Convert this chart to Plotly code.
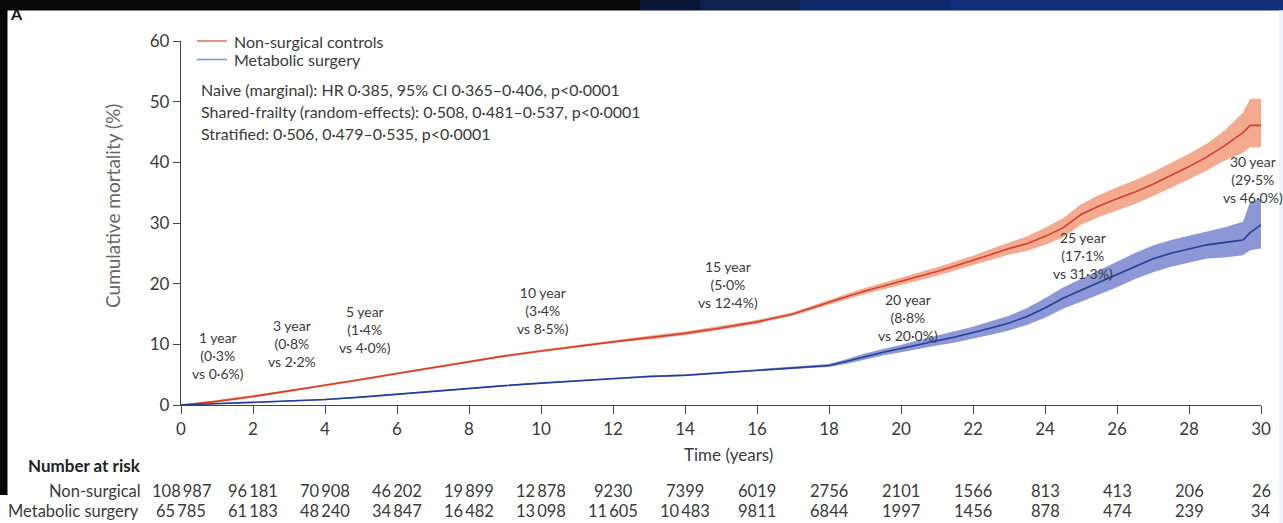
import plotly.graph_objects as go

# ---------------- data ----------------
time = [0, 1, 2, 3, 4, 5, 6, 7, 8, 9, 10, 11, 12, 13, 14, 15, 16, 17, 18, 18.5, 19, 19.5,
        20, 20.5, 21, 21.5, 22, 22.5, 23, 23.5, 24, 24.5, 25, 25.5, 26, 26.5, 27, 27.5,
        28, 28.5, 29, 29.5, 29.7, 30]

nonsurg = [0, 0.6, 1.4, 2.3, 3.2, 4.2, 5.2, 6.2, 7.1, 8.1, 8.9, 9.7, 10.4, 11.1, 11.8, 12.7,
           13.7, 15.0, 17.0, 17.9, 18.8, 19.6, 20.3, 21.2, 22.0, 22.9, 23.8, 24.8, 25.8, 26.6,
           27.8, 29.2, 31.4, 32.8, 34.0, 35.1, 36.4, 37.8, 39.3, 40.9, 42.8, 44.9, 46.1, 46.1]
nonsurg_lo = [0, 0.4, 1.2, 2.1, 3.0, 4.0, 5.0, 6.0, 6.9, 7.9, 8.7, 9.5, 10.2, 10.8, 11.5, 12.4,
              13.4, 14.7, 16.6, 17.45, 18.3, 19.05, 19.7, 20.55, 21.3, 22.15, 23.0, 23.9, 24.8, 25.4,
              26.4, 27.6, 29.7, 31.0, 32.1, 33.15, 34.4, 35.75, 37.2, 38.7, 40.3, 41.6, 42.5, 42.5]
nonsurg_hi = [0, 0.8, 1.6, 2.5, 3.4, 4.4, 5.4, 6.4, 7.3, 8.3, 9.1, 9.9, 10.6, 11.4, 12.1, 13.0,
              14.0, 15.3, 17.4, 18.35, 19.3, 20.15, 20.9, 21.85, 22.7, 23.65, 24.6, 25.7, 26.8, 27.8,
              29.2, 30.8, 33.1, 34.6, 35.9, 37.05, 38.4, 39.85, 41.4, 43.1, 45.3, 48.2, 50.5, 50.5]

surgery = [0, 0.2, 0.4, 0.65, 0.9, 1.3, 1.8, 2.2, 2.7, 3.2, 3.6, 4.0, 4.4, 4.7, 4.9, 5.3,
           5.8, 6.1, 6.5, 7.2, 8.0, 8.7, 9.3, 10.0, 10.6, 11.2, 11.9, 12.7, 13.5, 14.6,
           16.0, 17.6, 18.9, 20.2, 21.5, 22.9, 24.1, 25.0, 25.7, 26.4, 26.8, 27.2, 28.4, 29.7]
surgery_lo = [0, 0.1, 0.3, 0.55, 0.8, 1.2, 1.7, 2.1, 2.6, 3.1, 3.5, 3.9, 4.3, 4.55, 4.75, 5.15,
              5.65, 5.95, 6.25, 6.8, 7.5, 8.15, 8.7, 9.3, 9.8, 10.3, 10.9, 11.6, 12.3, 13.2,
              14.4, 15.85, 17.0, 18.2, 19.4, 20.75, 21.9, 22.8, 23.5, 24.15, 24.3, 24.7, 25.5, 25.8]
surgery_hi = [0, 0.3, 0.5, 0.75, 1.0, 1.4, 1.9, 2.3, 2.8, 3.3, 3.7, 4.1, 4.5, 4.85, 5.05, 5.45,
              5.95, 6.25, 6.75, 7.6, 8.5, 9.25, 9.9, 10.7, 11.4, 12.1, 12.9, 13.8, 14.7, 16.0,
              17.6, 19.35, 20.8, 22.2, 23.6, 25.05, 26.3, 27.2, 27.9, 28.65, 29.3, 30.2, 33.5, 34.0]

risk_times = [0, 2, 4, 6, 8, 10, 12, 14, 16, 18, 20, 22, 24, 26, 28, 30]
risk_nonsurg = [108987, 96181, 70908, 46202, 19899, 12878, 9230, 7399, 6019, 2756, 2101,
                1566, 813, 413, 206, 26]
risk_surgery = [65785, 61183, 48240, 34847, 16482, 13098, 11605, 10483, 9811, 6844, 1997,
                1456, 878, 474, 239, 34]

series_names = ["Non-surgical controls", "Metabolic surgery"]
risk_row_labels = ["Non-surgical", "Metabolic surgery"]

milestone_labels = [
    "1 year<br>(0·3%<br>vs 0·6%)",
    "3 year<br>(0·8%<br>vs 2·2%",
    "5 year<br>(1·4%<br>vs 4·0%)",
    "10 year<br>(3·4%<br>vs 8·5%)",
    "15 year<br>(5·0%<br>vs 12·4%)",
    "20 year<br>(8·8%<br>vs 20·0%)",
    "25 year<br>(17·1%<br>vs 31·3%)",
    "30 year<br>(29·5%<br>vs 46·0%)",
]

stats_lines = [
    "Naive (marginal): HR 0·385, 95% CI 0·365–0·406, p<0·0001",
    "Shared-frailty (random-effects): 0·508, 0·481–0·537, p<0·0001",
    "Stratified: 0·506, 0·479–0·535, p<0·0001",
]

# ---------------- styling / layout ----------------
FONT = "Lato, 'Open Sans', 'DejaVu Sans', sans-serif"
TXT = "#3a3a3a"
RED_LINE = "#d2402e"
RED_BAND = "#f4aa8e"
BLUE_LINE = "#233f94"
BLUE_BAND = "#8b97d6"
LEG_RED = "#e07a72"
LEG_BLUE = "#7a9cc0"

W, H = 1283, 523
ML, MR, MT, MB = 181, 22, 41, 118
PW, PH = W - ML - MR, H - MT - MB


def px(xp):
    return (xp - ML) / PW


def py(yp):
    return (H - MB - yp) / PH


def fmt(n):
    s = str(n)
    if n >= 10000:
        s = s[:-3] + "\u2009" + s[-3:]
    return s


fig = go.Figure()

# confidence bands
fig.add_trace(go.Scatter(x=time, y=nonsurg_lo, mode="lines", line=dict(width=0, color=RED_BAND),
                         showlegend=False, hoverinfo="skip"))
fig.add_trace(go.Scatter(x=time, y=nonsurg_hi, mode="lines", line=dict(width=0, color=RED_BAND),
                         fill="tonexty", fillcolor=RED_BAND, showlegend=False, hoverinfo="skip"))
fig.add_trace(go.Scatter(x=time, y=surgery_lo, mode="lines", line=dict(width=0, color=BLUE_BAND),
                         showlegend=False, hoverinfo="skip"))
fig.add_trace(go.Scatter(x=time, y=surgery_hi, mode="lines", line=dict(width=0, color=BLUE_BAND),
                         fill="tonexty", fillcolor=BLUE_BAND, showlegend=False, hoverinfo="skip"))

# curves
fig.add_trace(go.Scatter(x=time, y=nonsurg, mode="lines", name=series_names[0],
                         line=dict(color=RED_LINE, width=1.6), showlegend=False))
fig.add_trace(go.Scatter(x=time, y=surgery, mode="lines", name=series_names[1],
                         line=dict(color=BLUE_LINE, width=1.6), showlegend=False))

annotations = []
shapes = []

# legend (drawn as key lines + labels)
for i, (nm, col) in enumerate(zip(series_names, [LEG_RED, LEG_BLUE])):
    yk = 41 + 18.5 * i
    shapes.append(dict(type="line", xref="paper", yref="paper", x0=px(197), x1=px(227),
                       y0=py(yk), y1=py(yk), line=dict(color=col, width=1.6)))
    annotations.append(dict(x=px(232), y=py(yk), xref="paper", yref="paper", text=nm,
                            showarrow=False, xanchor="left", yanchor="middle",
                            font=dict(family=FONT, size=16, color=TXT)))

# milestone labels (anchor positions in data units)
milestone_pos = [(1.03, 8.2), (3.08, 10.2), (5.11, 12.5), (10.06, 15.5),
                 (15.19, 19.8), (20.19, 14.5), (25.06, 24.7), (29.78, 37.1)]
for lab, (mx, my) in zip(milestone_labels, milestone_pos):
    annotations.append(dict(x=mx, y=my, xref="x", yref="y", text=lab, showarrow=False,
                            font=dict(family=FONT, size=14, color=TXT),
                            xanchor="center", yanchor="middle", align="center"))

# stats lines
for i, line in enumerate(stats_lines):
    annotations.append(dict(x=px(199), y=py(89 + 22 * i), xref="paper", yref="paper", text=line,
                            showarrow=False, xanchor="left", yanchor="middle",
                            font=dict(family=FONT, size=16, color=TXT)))

# axis titles
annotations.append(dict(x=px(728), y=py(454), xref="paper", yref="paper", text="Time (years)",
                        showarrow=False, xanchor="center", yanchor="middle",
                        font=dict(family=FONT, size=17, color=TXT)))
annotations.append(dict(x=px(112), y=py(206), xref="paper", yref="paper",
                        text="Cumulative mortality (%)", textangle=-90,
                        showarrow=False, xanchor="center", yanchor="middle",
                        font=dict(family=FONT, size=19, color="#666")))

# number at risk
ROW1, ROW2, RFS = 491, 510.5, 16.5
annotations.append(dict(x=px(26), y=py(465), xref="paper", yref="paper", text="<b>Number at risk</b>",
                        showarrow=False, xanchor="left", yanchor="middle",
                        font=dict(family=FONT, size=17, color="#222")))
annotations.append(dict(x=px(143), y=py(ROW1), xref="paper", yref="paper", text=risk_row_labels[0],
                        showarrow=False, xanchor="right", yanchor="middle",
                        font=dict(family=FONT, size=RFS, color=TXT)))
annotations.append(dict(x=px(141), y=py(ROW2), xref="paper", yref="paper", text=risk_row_labels[1],
                        showarrow=False, xanchor="right", yanchor="middle",
                        font=dict(family=FONT, size=RFS, color=TXT)))
for t, a, b in zip(risk_times, risk_nonsurg, risk_surgery):
    annotations.append(dict(x=t, y=py(ROW1), xref="x", yref="paper", text=fmt(a), showarrow=False,
                            xanchor="center", yanchor="middle",
                            font=dict(family=FONT, size=RFS, color=TXT)))
    annotations.append(dict(x=t, y=py(ROW2), xref="x", yref="paper", text=fmt(b), showarrow=False,
                            xanchor="center", yanchor="middle",
                            font=dict(family=FONT, size=RFS, color=TXT)))

# panel letter (partly hidden by the dark frame)
annotations.append(dict(x=px(8), y=py(13), xref="paper", yref="paper", text="<b>A</b>",
                        showarrow=False, xanchor="left", yanchor="middle",
                        font=dict(family=FONT, size=16, color="#111")))

# screenshot frame (dark bars at top and left)
BAR = 10.5
frame = [
    (0, 640, "#070707"), (640, 700, "#0b1636"), (700, 800, "#0e214f"),
    (800, 950, "#10296a"), (950, 1283, "#112f78"),
]
for x0, x1, c in frame:
    shapes.append(dict(type="rect", xref="paper", yref="paper", x0=px(x0), x1=px(x1),
                       y0=py(BAR), y1=py(0), fillcolor=c, line=dict(width=0), layer="above"))
shapes.append(dict(type="rect", xref="paper", yref="paper", x0=px(0), x1=px(7.5), y0=py(495),
                   y1=py(9), fillcolor="#070707", line=dict(width=0), layer="above"))
shapes.append(dict(type="rect", xref="paper", yref="paper", x0=px(1279), x1=px(1283), y0=py(523),
                   y1=py(BAR), fillcolor="#eef4fb", line=dict(width=0), layer="above"))

fig.update_layout(
    width=W, height=H,
    margin=dict(l=ML, r=MR, t=MT, b=MB, pad=0),
    paper_bgcolor="white", plot_bgcolor="white",
    font=dict(family=FONT, size=16, color=TXT),
    showlegend=False,
    annotations=annotations,
    shapes=shapes,
    xaxis=dict(range=[0, 30], tickmode="array", tickvals=risk_times,
               ticks="outside", ticklen=8, tickwidth=1.3, tickcolor="#444",
               showline=True, linecolor="#444", linewidth=1.4, showgrid=False, zeroline=False,
               tickfont=dict(family=FONT, size=17, color=TXT)),
    yaxis=dict(range=[0, 60], tickvals=[0, 10, 20, 30, 40, 50, 60],
               ticks="outside", ticklen=7, tickwidth=1.3, tickcolor="#444",
               showline=True, linecolor="#444", linewidth=1.4, showgrid=False, zeroline=False,
               tickfont=dict(family=FONT, size=17, color=TXT)),
)

fig.write_html("out.html")
